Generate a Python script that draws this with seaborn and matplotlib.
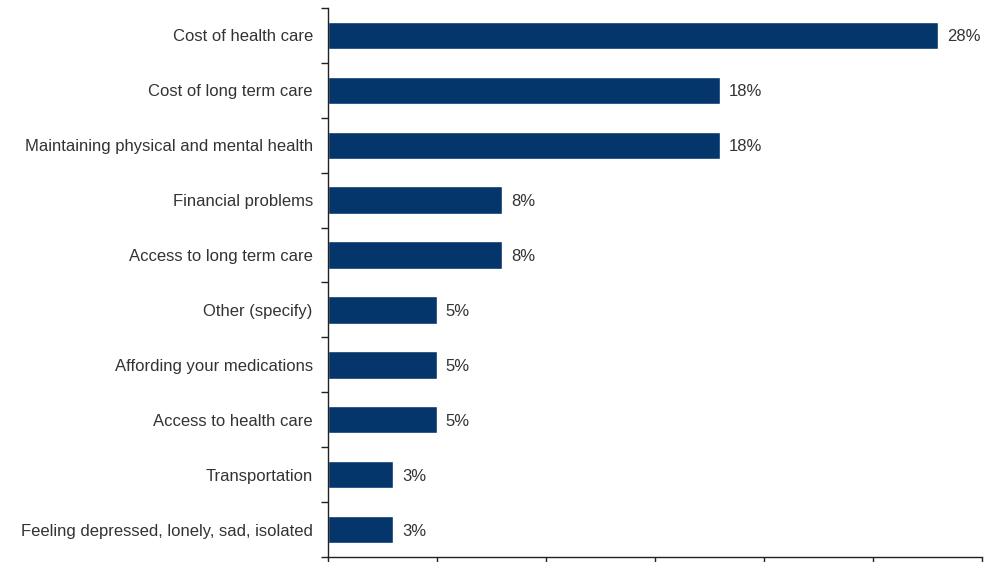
import pandas as pd
import seaborn as sns
import matplotlib.pyplot as plt
from matplotlib.ticker import FixedLocator

categories = [
    "Cost of health care",
    "Cost of long term care",
    "Maintaining physical and mental health",
    "Financial problems",
    "Access to long term care",
    "Other (specify)",
    "Affording your medications",
    "Access to health care",
    "Transportation",
    "Feeling depressed, lonely, sad, isolated",
]
values = [28, 18, 18, 8, 8, 5, 5, 5, 3, 3]

BAR_COLOR = "#04356b"
TEXT_COLOR = "#333333"

sns.set_style("white")
plt.rcParams["font.family"] = ["Liberation Sans", "DejaVu Sans"]

df = pd.DataFrame({"issue": categories, "pct": values})

fig = plt.figure(figsize=(9.89, 5.62), dpi=100)
ax = fig.add_axes([0.3317, 0.0089, 0.6612, 0.9769])

sns.barplot(data=df, y="issue", x="pct", orient="h", color=BAR_COLOR,
            width=0.5, saturation=1, ax=ax)

ax.set_xlim(0, 30)
ax.set_ylim(len(categories) - 0.5, -0.5)
ax.set_xticks(range(0, 31, 5))
ax.set_xticklabels([])
ax.set_xlabel("")
ax.set_ylabel("")

# category boundary ticks on the y axis
ax.yaxis.set_minor_locator(FixedLocator([i - 0.5 for i in range(len(categories) + 1)]))
ax.tick_params(axis="y", which="major", left=True, length=0, pad=11, labelsize=12, labelcolor=TEXT_COLOR)
ax.tick_params(axis="y", which="minor", left=True, length=5, width=1, color="#222222", direction="out")
ax.tick_params(axis="x", which="major", bottom=True, length=8, width=1, color="#222222", direction="out")

for side in ["top", "right"]:
    ax.spines[side].set_visible(False)
for side in ["left", "bottom"]:
    ax.spines[side].set_color("#222222")
    ax.spines[side].set_linewidth(1)

for i, v in enumerate(values):
    ax.text(v + 0.4, i, f"{v}%", va="center_baseline", ha="left", fontsize=12, color=TEXT_COLOR)

fig.savefig("out.png", dpi=100)
